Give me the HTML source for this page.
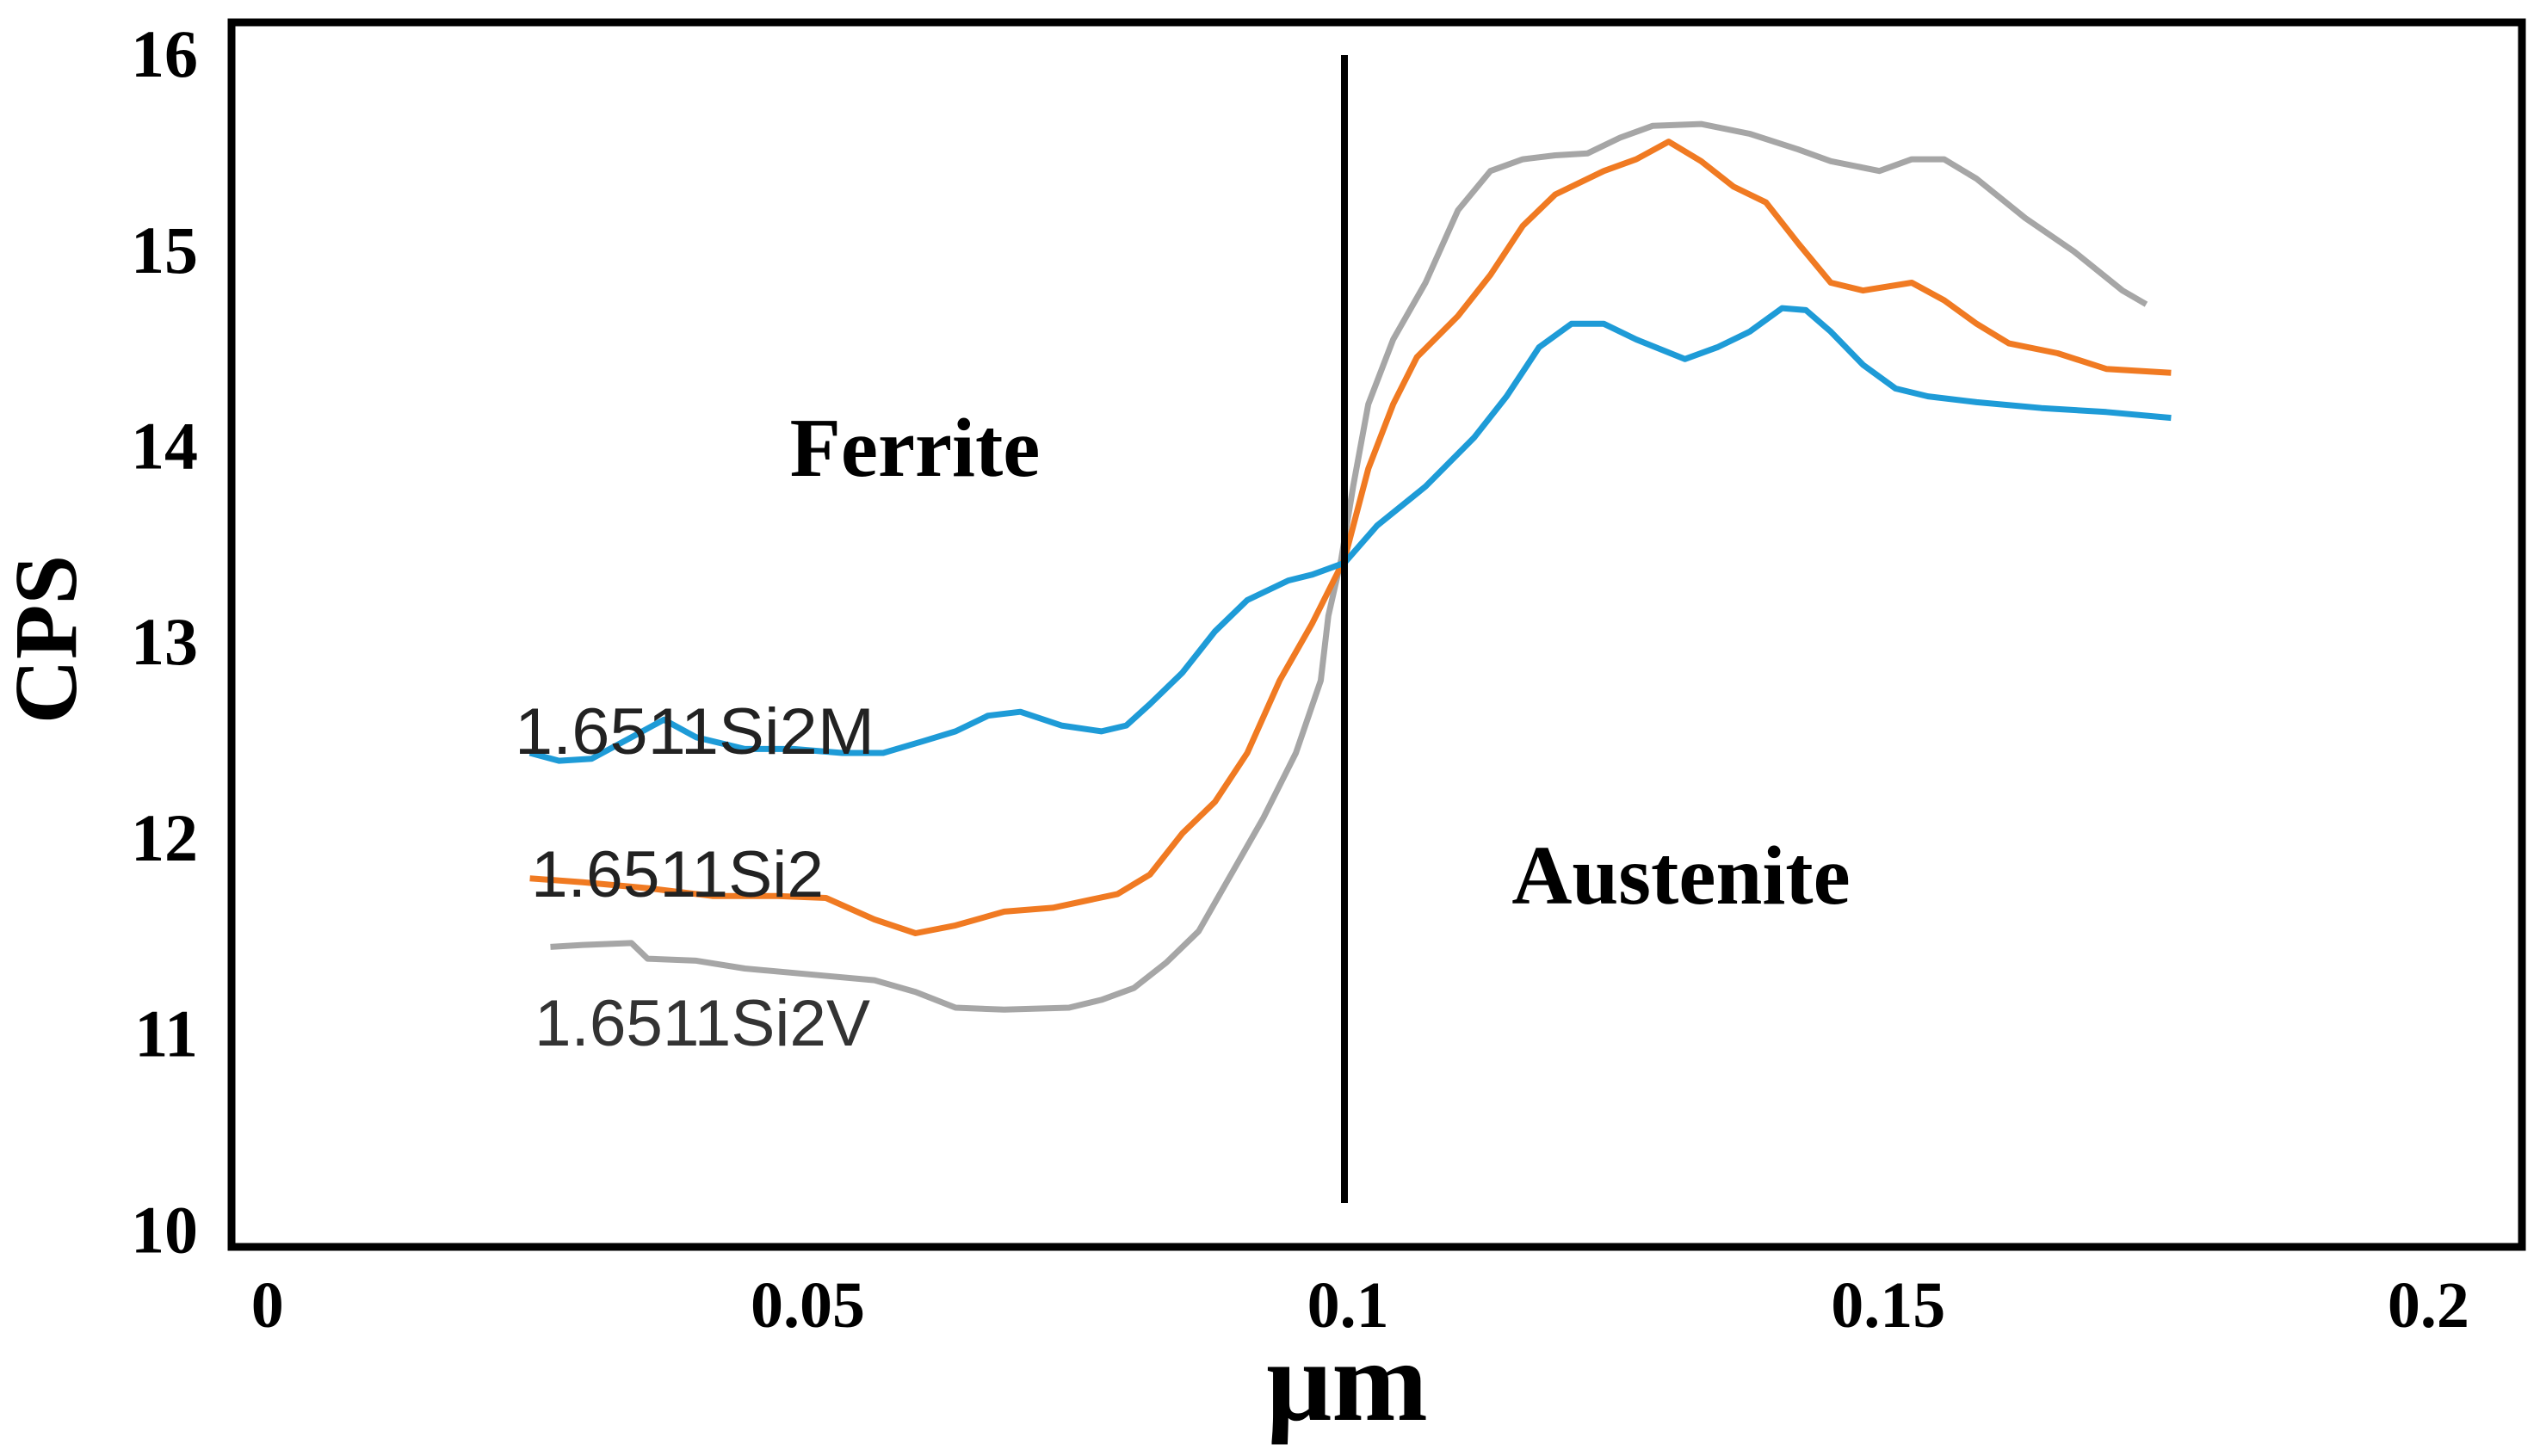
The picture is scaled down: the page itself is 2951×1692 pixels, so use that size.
<!DOCTYPE html>
<html><head><meta charset="utf-8"><style>
html,body{margin:0;padding:0;background:#fff;}
svg{display:block;}
</style></head><body>
<svg id="chart" width="2951" height="1692" xmlns="http://www.w3.org/2000/svg">
<rect x="0" y="0" width="2951" height="1692" fill="#fff"/>
<g id="marks"></g>
<rect x="269" y="26" width="2661" height="1423" fill="none" stroke="#000" stroke-width="9"/>
<line x1="1562" y1="64" x2="1562" y2="1398" stroke="#000" stroke-width="8"/>
<g id="yticks" font-family="'Liberation Serif',serif" font-weight="bold" font-size="78" text-anchor="end"></g>
<g id="xticks" font-family="'Liberation Serif',serif" font-weight="bold" font-size="76" text-anchor="middle"></g>
<text x="88" y="743" transform="rotate(-90 88 743)" font-family="'Liberation Serif',serif" font-weight="bold" font-size="104" text-anchor="middle">CPS</text>
<text x="1565" y="1650" font-family="'Liberation Serif',serif" font-weight="bold" font-size="134" text-anchor="middle">μm</text>
<text x="1063" y="553" font-family="'Liberation Serif',serif" font-weight="bold" font-size="97" text-anchor="middle">Ferrite</text>
<text x="1953" y="1050" font-family="'Liberation Serif',serif" font-weight="bold" font-size="97" text-anchor="middle">Austenite</text>
<text x="598" y="876" textLength="418" lengthAdjust="spacingAndGlyphs" font-family="'Liberation Sans',sans-serif" font-size="76" fill="#222">1.6511Si2M</text>
<text x="617" y="1042" textLength="340" lengthAdjust="spacingAndGlyphs" font-family="'Liberation Sans',sans-serif" font-size="76" fill="#222">1.6511Si2</text>
<text x="621" y="1215" textLength="390" lengthAdjust="spacingAndGlyphs" font-family="'Liberation Sans',sans-serif" font-size="76" fill="#333">1.6511Si2V</text>
</svg>
<script>
const yTickLabels = [10, 11, 12, 13, 14, 15, 16];
const xTickValues = [0, 0.05, 0.1, 0.15, 0.2];
const xTickLabels = ["0", "0.05", "0.1", "0.15", "0.2"];

const si2mX = [.0246,.0273,.0303,.0340,.0370,.0400,.0445,.0490,.0535,.0573,.0610,.0640,.0670,.0700,.0738,.0775,.0798,.0820,.0850,.0880,.0910,.0948,.0970,.1000,.1030,.1075,.1120,.1150,.1180,.1210,.1240,.1270,.1315,.1345,.1375,.1405,.1427,.1450,.1480,.1510,.1540,.1585,.1645,.1705,.1765];
const si2mY = [12.43,12.39,12.40,12.51,12.60,12.51,12.45,12.45,12.43,12.43,12.49,12.54,12.62,12.64,12.57,12.54,12.57,12.68,12.84,13.05,13.21,13.31,13.34,13.40,13.59,13.79,14.04,14.25,14.50,14.62,14.62,14.54,14.44,14.50,14.58,14.70,14.69,14.58,14.41,14.29,14.25,14.22,14.19,14.17,14.14];

const si2X = [.0246,.0295,.0355,.0415,.0475,.0520,.0565,.0603,.0640,.0685,.0730,.0790,.0820,.0850,.0880,.0910,.0940,.0970,.1000,.1022,.1045,.1067,.1105,.1135,.1165,.1195,.1240,.1270,.1300,.1330,.1360,.1390,.1420,.1450,.1480,.1525,.1555,.1585,.1615,.1660,.1705,.1765];
const si2Y = [11.79,11.77,11.74,11.70,11.70,11.69,11.58,11.51,11.55,11.62,11.64,11.71,11.81,12.02,12.18,12.43,12.80,13.09,13.42,13.88,14.21,14.45,14.66,14.87,15.12,15.28,15.40,15.46,15.55,15.45,15.32,15.24,15.03,14.83,14.79,14.83,14.74,14.62,14.52,14.47,14.39,14.37];

const si2vX = [.0265,.0295,.0340,.0355,.0400,.0445,.0505,.0565,.0603,.0640,.0685,.0745,.0775,.0805,.0835,.0865,.0895,.0925,.0955,.0978,.0985,.0997,.1008,.1022,.1045,.1075,.1105,.1135,.1165,.1195,.1225,.1255,.1285,.1330,.1375,.1420,.1450,.1495,.1525,.1555,.1585,.1630,.1675,.1720,.1742];
const si2vY = [11.44,11.45,11.46,11.38,11.37,11.33,11.30,11.27,11.21,11.13,11.12,11.13,11.17,11.23,11.36,11.52,11.81,12.10,12.43,12.80,13.13,13.42,13.79,14.21,14.54,14.83,15.20,15.40,15.46,15.48,15.49,15.57,15.63,15.64,15.59,15.51,15.45,15.40,15.46,15.46,15.36,15.16,14.99,14.79,14.72];

const NS = "http://www.w3.org/2000/svg";
function X(v){ return 306.8 + v * 12553; }
function Y(v){ return 62.1 + (16 - v) * 227.7; }

const marks = document.getElementById('marks');
function drawSeries(xs, ys, color, name){
  const p = document.createElementNS(NS, 'path');
  let d = '';
  for (let i = 0; i < xs.length; i++) d += (i ? 'L' : 'M') + X(xs[i]).toFixed(1) + ' ' + Y(ys[i]).toFixed(1);
  p.setAttribute('d', d);
  p.setAttribute('fill', 'none');
  p.setAttribute('stroke', color);
  p.setAttribute('stroke-width', '7');
  p.setAttribute('stroke-linejoin', 'round');
  
  
  marks.appendChild(p);
}
drawSeries(si2vX, si2vY, '#a6a6a6', 'series-si2v');
drawSeries(si2X, si2Y, '#f07a22', 'series-si2');
drawSeries(si2mX, si2mY, '#1e9bd7', 'series-si2m');

const yg = document.getElementById('yticks');
yTickLabels.forEach(function(v){
  const t = document.createElementNS(NS, 'text');
  t.setAttribute('x', 230);
  t.setAttribute('y', Y(v) + 27);
  t.textContent = String(v);
  
  
  yg.appendChild(t);
});
const xg = document.getElementById('xticks');
xTickValues.forEach(function(v, i){
  const t = document.createElementNS(NS, 'text');
  t.setAttribute('x', X(v) + 4);
  t.setAttribute('y', 1542);
  t.textContent = xTickLabels[i];
  
  
  xg.appendChild(t);
});
</script>
</body></html>
